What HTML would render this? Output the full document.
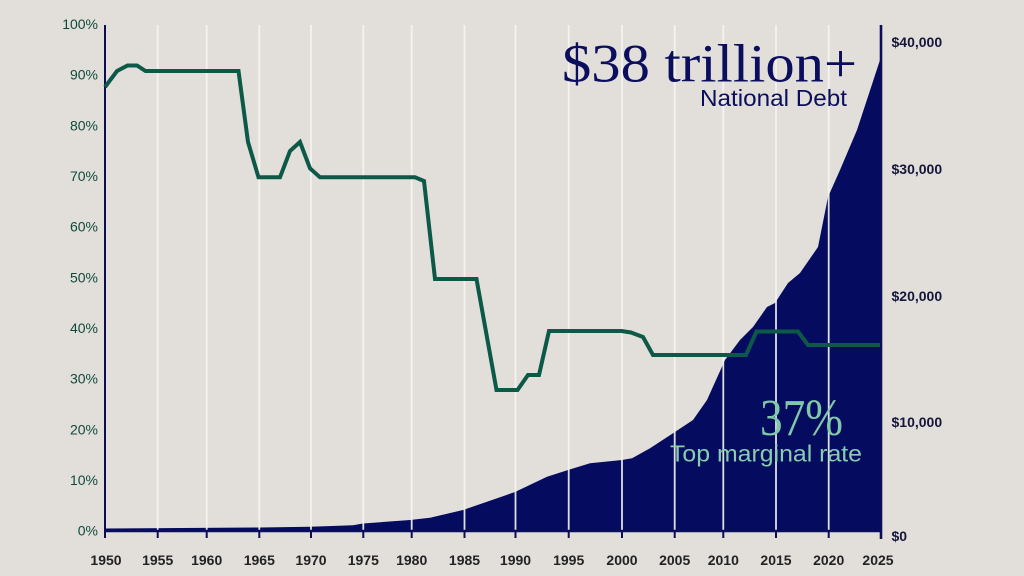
<!DOCTYPE html>
<html>
<head>
<meta charset="utf-8">
<style>
html,body{margin:0;padding:0;background:#e2dfdb;}
svg{display:block;}
.yl{font-family:"Liberation Sans",sans-serif;font-size:14px;fill:#0e4a3b;text-anchor:end;}
.xl{font-family:"Liberation Sans",sans-serif;font-size:14px;font-weight:bold;fill:#222;text-anchor:middle;}
.rl{font-family:"Liberation Sans",sans-serif;font-size:14px;font-weight:bold;fill:#14163a;}
</style>
</head>
<body>
<svg width="1024" height="576" viewBox="0 0 1024 576" xmlns="http://www.w3.org/2000/svg">
<rect x="0" y="0" width="1024" height="576" fill="#e2dfdb"/>

<!-- debt area -->
<polygon fill="#050b5e" points="105,532 105,528.5 260,527.5 310,526.7 353,525.3 363,523.5 410,520 430,517.7 463,510 487,501.7 515,492 547,476.7 568,470 590,463.3 622,460 632,458.3 650,448.3 673,433.3 693,420 707,400 725,360 740,340 753,327 767,307 775,303 788,283 800,273 818,247 828,197 840,170 857,130 880,60 880,532"/>

<!-- gridlines -->
<g stroke="#f7f5f2" stroke-width="1.8" opacity="0.9">
<line x1="157.7" y1="25" x2="157.7" y2="530"/>
<line x1="206.7" y1="25" x2="206.7" y2="530"/>
<line x1="259.3" y1="25" x2="259.3" y2="530"/>
<line x1="311" y1="25" x2="311" y2="530"/>
<line x1="363.3" y1="25" x2="363.3" y2="530"/>
<line x1="411.7" y1="25" x2="411.7" y2="530"/>
<line x1="464.5" y1="25" x2="464.5" y2="530"/>
<line x1="515.5" y1="25" x2="515.5" y2="530"/>
<line x1="568.7" y1="25" x2="568.7" y2="530"/>
<line x1="622" y1="25" x2="622" y2="530"/>
<line x1="674.7" y1="25" x2="674.7" y2="530"/>
<line x1="723.3" y1="25" x2="723.3" y2="530"/>
<line x1="776" y1="25" x2="776" y2="530"/>
<line x1="828.7" y1="25" x2="828.7" y2="530"/>
</g>

<!-- axes -->
<g stroke="#0a0d5a">
<line x1="105" y1="25" x2="105" y2="538" stroke-width="2"/>
<line x1="881" y1="25" x2="881" y2="539" stroke-width="2.6"/>
<line x1="105" y1="531" x2="881" y2="531" stroke-width="2.4"/>
<g stroke-width="2">
<line x1="157.7" y1="531" x2="157.7" y2="538"/>
<line x1="206.7" y1="531" x2="206.7" y2="538"/>
<line x1="259.3" y1="531" x2="259.3" y2="538"/>
<line x1="311" y1="531" x2="311" y2="538"/>
<line x1="363.3" y1="531" x2="363.3" y2="538"/>
<line x1="411.7" y1="531" x2="411.7" y2="538"/>
<line x1="464.5" y1="531" x2="464.5" y2="538"/>
<line x1="515.5" y1="531" x2="515.5" y2="538"/>
<line x1="568.7" y1="531" x2="568.7" y2="538"/>
<line x1="622" y1="531" x2="622" y2="538"/>
<line x1="674.7" y1="531" x2="674.7" y2="538"/>
<line x1="723.3" y1="531" x2="723.3" y2="538"/>
<line x1="776" y1="531" x2="776" y2="538"/>
<line x1="828.7" y1="531" x2="828.7" y2="538"/>
</g>
</g>

<!-- tax rate line -->
<polyline fill="none" stroke="#0c5947" stroke-width="4" stroke-linejoin="miter" points="105,87 117,71 127.5,65.5 137,65.5 145.5,71 238.5,71 248,142 258.5,177.3 280,177.3 290,151 300,142 310,168.3 320,177.3 415,177.3 424,181 435,279 476.5,279 496.5,390 517.5,390 528,375 539,375 549,331 621.5,331 631,332.5 643,337 653,355 746,355 756.5,331.5 798,331.5 808,345 880,345"/>

<!-- left labels -->
<text class="yl" x="98" y="29">100%</text>
<text class="yl" x="98" y="79.7">90%</text>
<text class="yl" x="98" y="130.4">80%</text>
<text class="yl" x="98" y="181">70%</text>
<text class="yl" x="98" y="231.7">60%</text>
<text class="yl" x="98" y="282.3">50%</text>
<text class="yl" x="98" y="333">40%</text>
<text class="yl" x="98" y="383.7">30%</text>
<text class="yl" x="98" y="434.3">20%</text>
<text class="yl" x="98" y="485">10%</text>
<text class="yl" x="98" y="535.7">0%</text>

<!-- right labels -->
<text class="rl" x="891.5" y="47">$40,000</text>
<text class="rl" x="891.5" y="174">$30,000</text>
<text class="rl" x="891.5" y="301">$20,000</text>
<text class="rl" x="891.5" y="427">$10,000</text>
<text class="rl" x="891.5" y="541">$0</text>

<!-- year labels -->
<text class="xl" x="106" y="565">1950</text>
<text class="xl" x="157.7" y="565">1955</text>
<text class="xl" x="206.7" y="565">1960</text>
<text class="xl" x="259.3" y="565">1965</text>
<text class="xl" x="311" y="565">1970</text>
<text class="xl" x="363.3" y="565">1975</text>
<text class="xl" x="411.7" y="565">1980</text>
<text class="xl" x="464.5" y="565">1985</text>
<text class="xl" x="515.5" y="565">1990</text>
<text class="xl" x="568.7" y="565">1995</text>
<text class="xl" x="622" y="565">2000</text>
<text class="xl" x="674.7" y="565">2005</text>
<text class="xl" x="723.3" y="565">2010</text>
<text class="xl" x="776" y="565">2015</text>
<text class="xl" x="828.7" y="565">2020</text>
<text class="xl" x="878" y="565">2025</text>

<!-- annotations -->
<text x="562" y="81.5" font-family="'Liberation Serif',serif" font-size="54" fill="#0a0e5c" textLength="295" lengthAdjust="spacingAndGlyphs">$38 trillion+</text>
<text x="700" y="106" font-family="'Liberation Sans',sans-serif" font-size="23" fill="#0a0e5c" textLength="147" lengthAdjust="spacingAndGlyphs">National Debt</text>
<text x="760" y="435" font-family="'Liberation Serif',serif" font-size="52" fill="#80c9a8" textLength="83" lengthAdjust="spacingAndGlyphs">37%</text>
<text x="670" y="461.5" font-family="'Liberation Sans',sans-serif" font-size="23.5" fill="#86ceae" textLength="192" lengthAdjust="spacingAndGlyphs">Top marginal rate</text>
</svg>
</body>
</html>
